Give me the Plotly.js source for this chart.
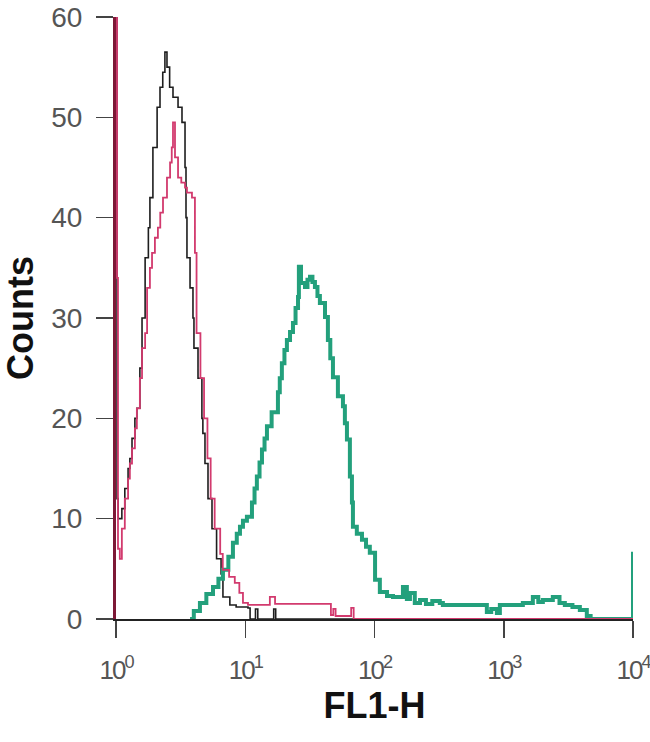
<!DOCTYPE html>
<html>
<head>
<meta charset="utf-8">
<script src="https://cdn.plot.ly/plotly-3.0.1.min.js"></script>
<style>
html,body{margin:0;padding:0;background:#fff;}
#chart{width:650px;height:742px;}
</style>
</head>
<body>
<div id="chart"></div>
<script>
// FL1-H channel values (log scale) and counts
const blackX = [1, 1.018, 1.04, 1.11, 1.17, 1.24, 1.28, 1.33, 1.40, 1.45, 1.53, 1.59, 1.68, 1.78, 1.83, 1.93, 2.08, 2.19, 2.30, 2.39, 2.48, 2.60, 2.76, 3.02, 3.24, 3.42, 3.48, 3.54, 3.74, 3.94, 4.01, 4.31, 4.62, 4.70, 4.88, 5.15, 5.53, 6.00, 6.50, 6.72, 7.60, 8.50, 10.5, 10.9, 12.0, 12.5, 16.6, 17.2, 10000];
const blackY = [150, 12, 10, 11, 13, 15, 16, 18, 20, 21, 25, 30, 36, 39, 42, 47, 51, 53, 54.5, 56.5, 55, 53, 52, 51, 49.5, 45, 40, 36, 33, 30, 27, 24, 20, 18.5, 15.5, 12, 9, 6, 4.5, 2.2, 1.4, 1.2, 1.1, 0, 1, 0, 1, 0, 0];

const pinkX = [1, 1.018, 1.036, 1.07, 1.11, 1.17, 1.24, 1.28, 1.33, 1.40, 1.45, 1.53, 1.59, 1.68, 1.74, 1.83, 1.90, 2.00, 2.11, 2.20, 2.31, 2.48, 2.62, 2.70, 2.76, 2.86, 3.02, 3.20, 3.42, 3.54, 3.87, 4.08, 4.20, 4.50, 4.80, 5.10, 5.40, 5.80, 6.40, 6.70, 7.50, 8.30, 9.00, 9.60, 10.5, 15.5, 17.0, 46, 48, 50, 66, 69, 10000];
const pinkY = [150, 34, 7, 6, 9, 12, 14, 15.5, 17, 19, 21, 24, 27, 28.5, 33, 35, 36.5, 38, 39, 40.5, 42, 44, 45.5, 47, 49.5, 46, 44, 43.5, 43, 42.5, 42, 36.5, 28.5, 24, 20, 16, 12, 9, 6.5, 4.9, 4.2, 3.6, 2.6, 1.6, 1.4, 2.2, 1.5, 0.4, 1.0, 0.3, 1.1, 0, 0];

const tealX = [3.74, 4.0, 4.46, 5.0, 5.63, 6.2, 6.72, 7.4, 8.03, 8.6, 9.1, 9.6, 10.3, 11.27, 11.8, 12.3, 12.9, 13.47, 14.1, 14.72, 16.0, 17.9, 18.5, 19.2, 20.1, 21.0, 22.2, 23.4, 24.5, 25.6, 26.0, 27.0, 29.0, 30.3, 31.7, 33.1, 34.6, 36.2, 37.8, 41.4, 43.6, 45.5, 47.7, 52.1, 57.0, 59.0, 61.2, 64.5, 66.9, 68.1, 73, 80, 86, 92, 101, 110, 125, 139, 166, 178, 188, 205, 225, 250, 280, 320, 338, 690, 740, 800, 885, 933, 1115, 1405, 1679, 1850, 2007, 2397, 2700, 2969, 3400, 3879, 4392, 4700, 9790, 10000];
const tealY = [0, 0.8, 1.6, 2.5, 3.2, 4.0, 4.9, 6.2, 7.6, 8.5, 9.2, 9.8, 10.2, 11.6, 13, 14.2, 15.6, 16.9, 18, 19.2, 20.6, 22.6, 24, 25.5, 26.8, 27.8, 28.6, 29.5, 31, 32.1, 35.1, 33.5, 33.1, 33.8, 34.1, 33.6, 33.1, 32.2, 31.5, 30.1, 27.8, 26, 24.1, 22.2, 21.2, 19.5, 17.9, 14.2, 11.6, 9.2, 8.5, 7.9, 7.2, 6.6, 3.9, 2.7, 2.3, 2.2, 3.2, 2.0, 2.6, 1.6, 1.9, 1.5, 1.8, 1.6, 1.4, 1.4, 0.7, 1.0, 0.6, 1.4, 1.4, 1.6, 2.2, 1.7, 1.9, 2.2, 1.6, 1.4, 1.2, 0.9, 0.3, 0, 0, 6.7];

const xTickVals = [1, 10, 100, 1000, 10000];
const xTickExp = ['0', '1', '2', '3', '4'];
const yTickVals = [0, 10, 20, 30, 40, 50, 60];

const xTickText = xTickExp.map(e => '<span style="letter-spacing:-2px">10<sup>' + e + '</sup></span>');

const traces = [
  {x: blackX, y: blackY, type: 'scatter', mode: 'lines', line: {shape: 'hv', color: '#1e1e1e', width: 1.6}, hoverinfo: 'skip'},
  {x: tealX, y: tealY, type: 'scatter', mode: 'lines', line: {shape: 'hv', color: '#23a07c', width: 4}, hoverinfo: 'skip'},
  {x: pinkX, y: pinkY, type: 'scatter', mode: 'lines', line: {shape: 'hv', color: '#d23a6e', width: 1.8}, hoverinfo: 'skip'}
];

const xTickFont = {family: '"Liberation Sans", Arial, sans-serif', size: 26, color: '#555'};
const yTickFont = {family: '"Liberation Sans", Arial, sans-serif', size: 28, color: '#555'};
const titleFont = {family: '"Liberation Sans", Arial, sans-serif', size: 36, color: '#111', weight: 'bold'};

const layout = {
  width: 650, height: 742,
  margin: {l: 116, r: 17, t: 17, b: 123},
  paper_bgcolor: '#fff', plot_bgcolor: '#fff',
  showlegend: false,
  xaxis: {
    type: 'log', range: [0, 4],
    tickvals: xTickVals, ticktext: xTickText,
    ticks: 'outside', ticklen: 17, tickwidth: 1.5, tickcolor: '#444',
    showline: true, linecolor: '#222', linewidth: 1.5,
    showgrid: false, zeroline: false,
    tickfont: xTickFont, ticklabelstandoff: 10, ticklabeloverflow: 'allow',
    title: {text: '<b>FL1-H</b>', font: titleFont, standoff: 9},
    layer: 'below traces'
  },
  yaxis: {
    range: [0, 60],
    tickvals: yTickVals,
    ticks: 'outside', ticklen: 17, tickwidth: 1.5, tickcolor: '#444',
    showline: true, linecolor: '#7d1836', linewidth: 3,
    showgrid: false, zeroline: false,
    tickfont: yTickFont, ticklabelstandoff: 8, ticklabeloverflow: 'allow',
    title: {text: '<b>Counts</b>', font: titleFont, standoff: 22}
  }
};

Plotly.newPlot('chart', traces, layout, {displayModeBar: false, staticPlot: true});
</script>
</body>
</html>
